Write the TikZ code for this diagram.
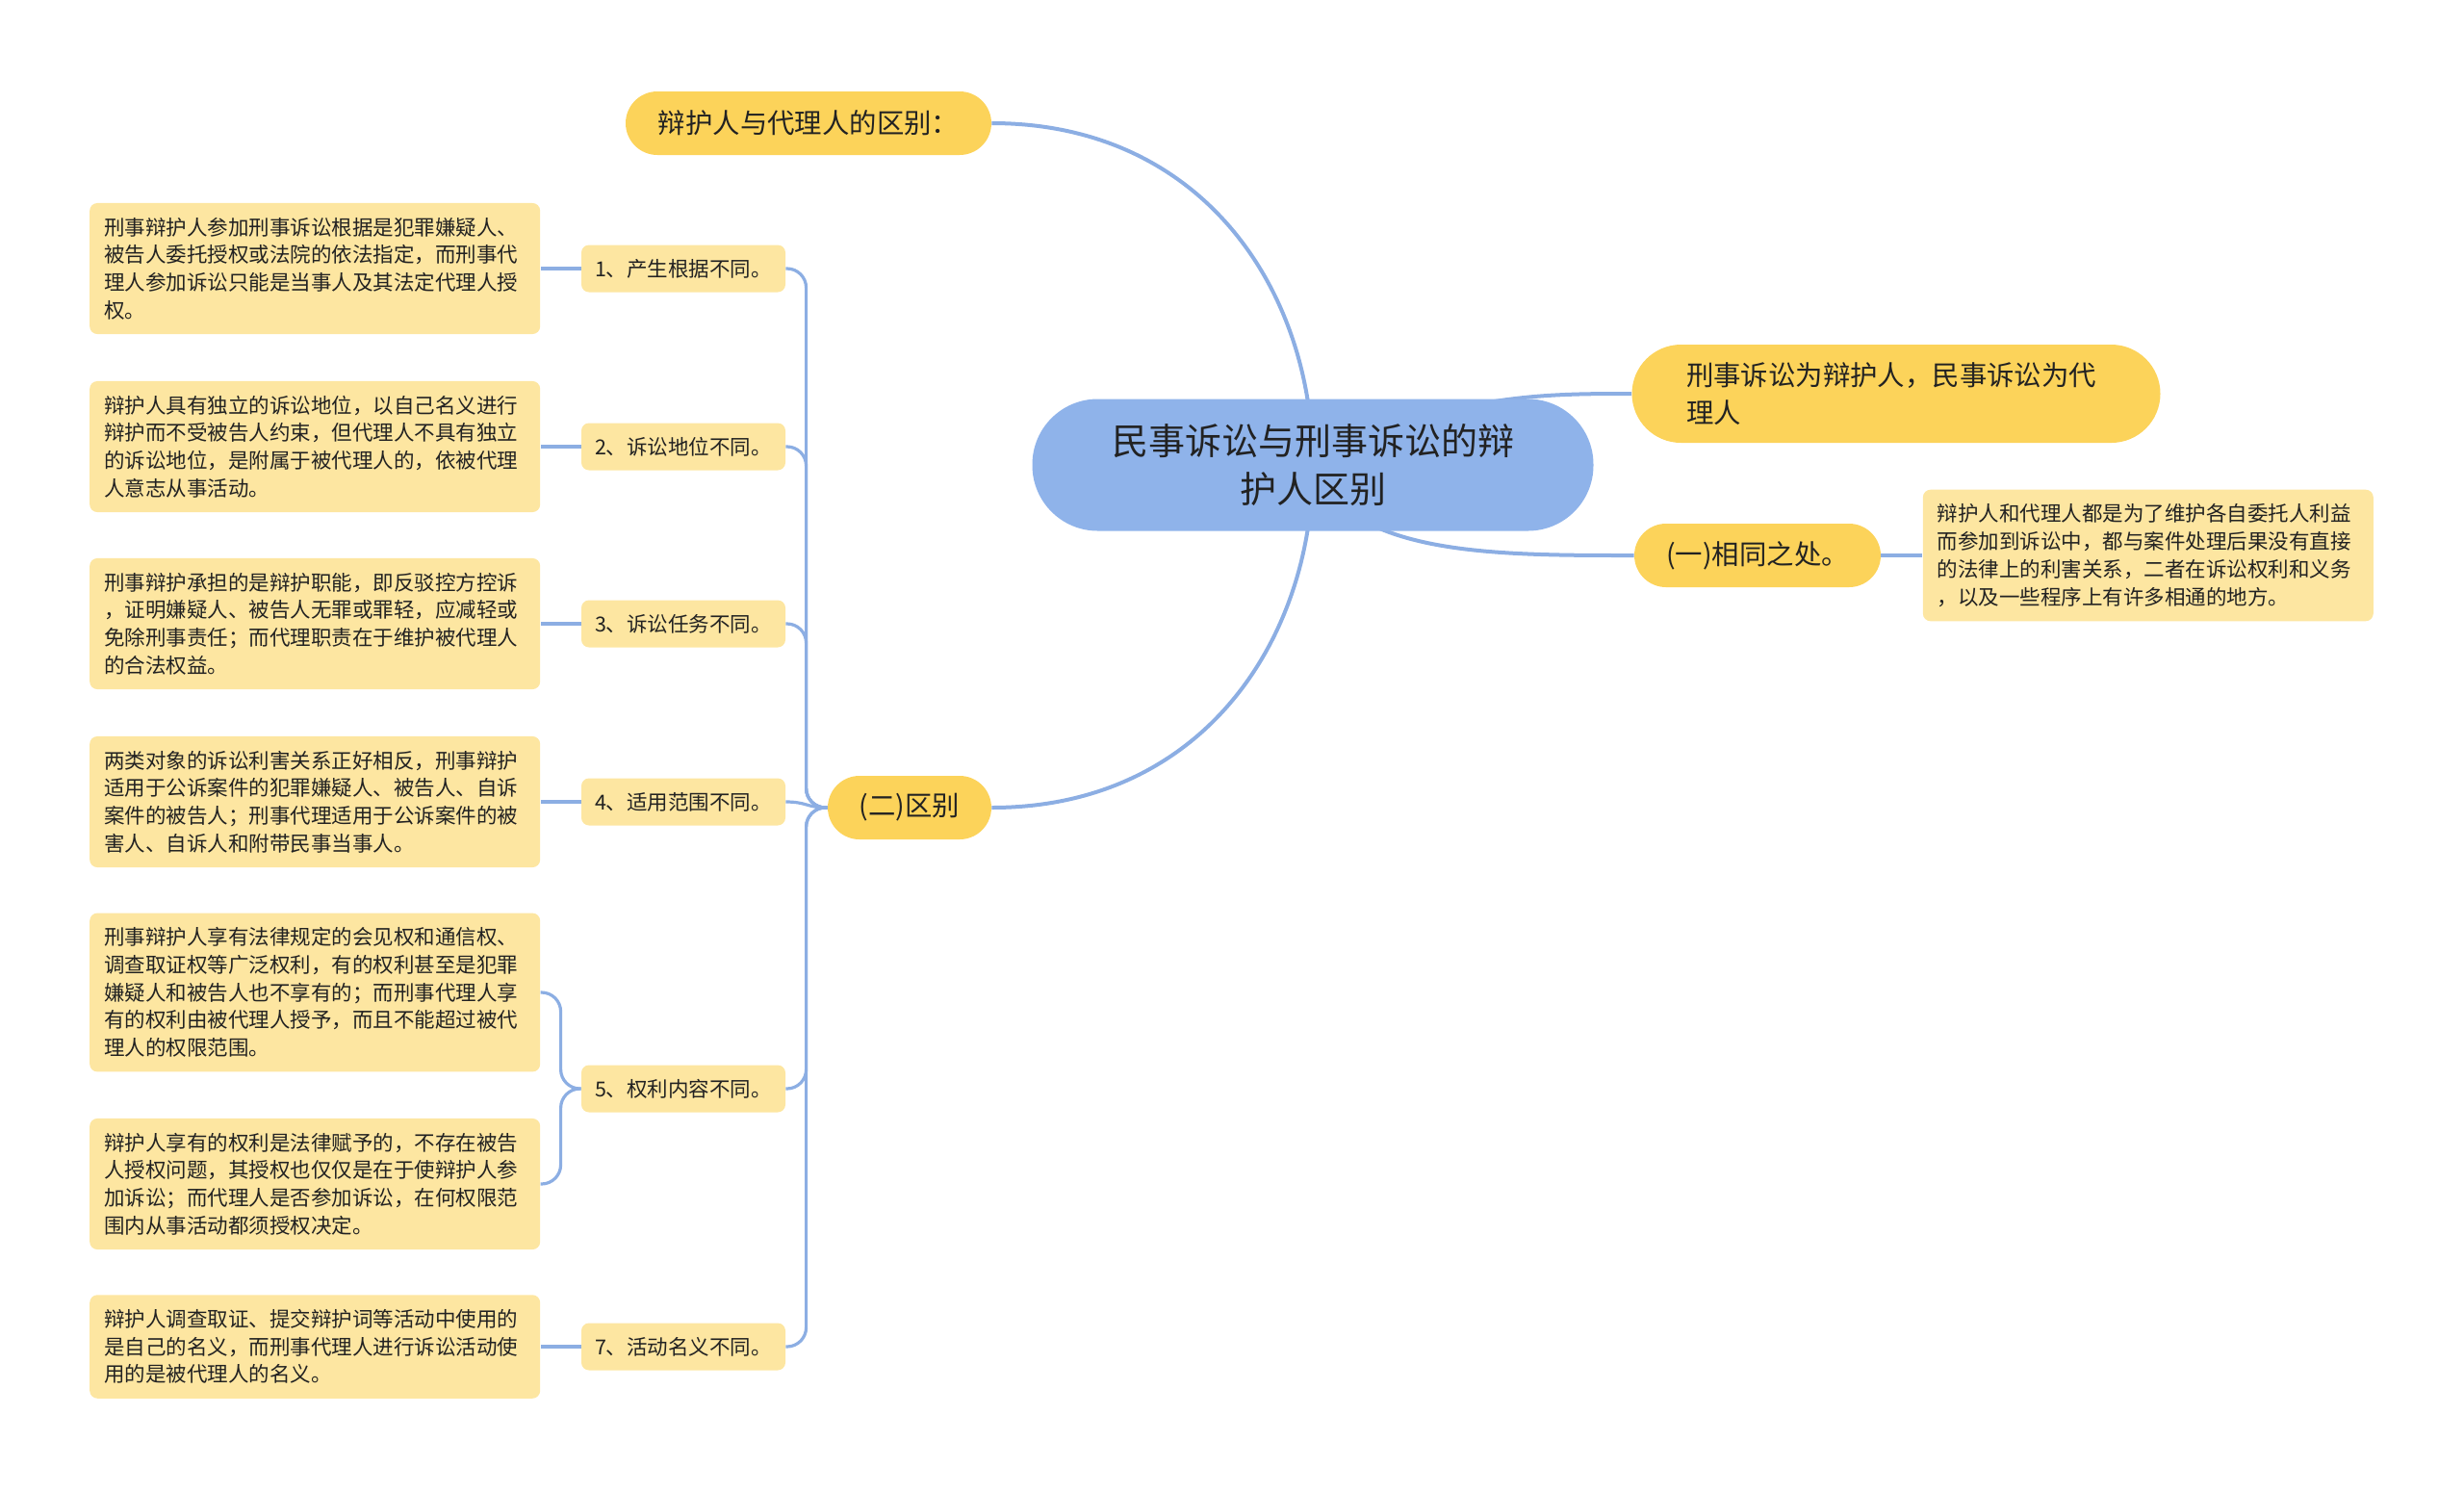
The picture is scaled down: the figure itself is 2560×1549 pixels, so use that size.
\documentclass[tikz,border=0pt]{standalone}
\usepackage{fontspec}
\setmainfont{Noto Sans CJK SC}
\usetikzlibrary{positioning, backgrounds, calc}
\definecolor{rootcolor}{RGB}{143,179,234}
\definecolor{branchcolor}{RGB}{252,211,90}
\definecolor{leafcolor}{RGB}{253,230,161}
\definecolor{linecolor}{RGB}{140,174,227}
\definecolor{inkcolor}{RGB}{34,34,34}

\begin{document}
\begin{tikzpicture}[
    x=0.5pt, y=-0.5pt,
    root/.style={rectangle, rounded corners=34pt, fill=rootcolor, minimum width=291.5pt, minimum height=68.5pt, align=center, text=inkcolor, font=\fontsize{19pt}{25.3pt}\selectfont},
    branch/.style={rectangle, rounded corners=16.5pt, fill=branchcolor, minimum height=33pt, text=inkcolor, font=\fontsize{14.2pt}{19.6pt}\selectfont},
    item/.style={rectangle, rounded corners=4pt, fill=leafcolor, minimum width=106pt, minimum height=24.5pt, text=inkcolor, font=\fontsize{10.75pt}{14.35pt}\selectfont},
    leaf/.style={rectangle, rounded corners=4pt, fill=leafcolor, text width=219pt, inner xsep=7.5pt, inner ysep=7.5pt, align=left, text=inkcolor, font=\fontsize{10.75pt}{14.35pt}\selectfont},
    link/.style={draw=linecolor, line width=1.6pt},
    elbow/.style={link, rounded corners=10pt},
    mainlink/.style={draw=linecolor, line width=2pt},
    node distance=21pt
]
    \useasboundingbox (0,0) rectangle (2560,1549);

    % Root topic
    \node[root] (root) at (1364,483) {民事诉讼与刑事诉讼的辩\\护人区别};

    % Main branches
    \node[branch, minimum width=190pt] (contrast) at (840,128) {辩护人与代理人的区别：};
    \node[branch, rounded corners=25.5pt, minimum width=274.5pt, minimum height=51pt, text width=218pt, inner xsep=27pt, align=left] (roles) at (1970,409) {刑事诉讼为辩护人，民事诉讼为代\\理人};
    \node[branch, minimum width=128pt] (same) at (1826,577) {(一)相同之处。};
    \node[branch, minimum width=85pt] (diff) at (945,839) {(二)区别};

    % Same: detail
    \node[leaf, right=21.5pt of same] (sameattr) {辩护人和代理人都是为了维护各自委托人利益\\
        而参加到诉讼中，都与案件处理后果没有直接\\
        的法律上的利害关系，二者在诉讼权利和义务\\
        ，以及一些程序上有许多相通的地方。};

    % Diff: items
    \node[item] (item1) at (710,279) {1、产生根据不同。};
    \node[item] (item2) at (710,464) {2、诉讼地位不同。};
    \node[item] (item3) at (710,648) {3、诉讼任务不同。};
    \node[item] (item4) at (710,833) {4、适用范围不同。};
    \node[item] (item5) at (710,1131) {5、权利内容不同。};
    \node[item] (item7) at (710,1399) {7、活动名义不同。};

    % Diff: details
    \node[leaf, left=of item1] (leaf1) {刑事辩护人参加刑事诉讼根据是犯罪嫌疑人、\\
        被告人委托授权或法院的依法指定，而刑事代\\
        理人参加诉讼只能是当事人及其法定代理人授\\
        权。};
    \node[leaf, left=of item2] (leaf2) {辩护人具有独立的诉讼地位，以自己名义进行\\
        辩护而不受被告人约束，但代理人不具有独立\\
        的诉讼地位，是附属于被代理人的，依被代理\\
        人意志从事活动。};
    \node[leaf, left=of item3] (leaf3) {刑事辩护承担的是辩护职能，即反驳控方控诉\\
        ，证明嫌疑人、被告人无罪或罪轻，应减轻或\\
        免除刑事责任；而代理职责在于维护被代理人\\
        的合法权益。};
    \node[leaf, left=of item4] (leaf4) {两类对象的诉讼利害关系正好相反，刑事辩护\\
        适用于公诉案件的犯罪嫌疑人、被告人、自诉\\
        案件的被告人；刑事代理适用于公诉案件的被\\
        害人、自诉人和附带民事当事人。};
    \node[leaf, left=of item5, yshift=50pt] (leaf5a) {刑事辩护人享有法律规定的会见权和通信权、\\
        调查取证权等广泛权利，有的权利甚至是犯罪\\
        嫌疑人和被告人也不享有的；而刑事代理人享\\
        有的权利由被代理人授予，而且不能超过被代\\
        理人的权限范围。};
    \node[leaf, left=of item5, yshift=-49.5pt] (leaf5b) {辩护人享有的权利是法律赋予的，不存在被告\\
        人授权问题，其授权也仅仅是在于使辩护人参\\
        加诉讼；而代理人是否参加诉讼，在何权限范\\
        围内从事活动都须授权决定。};
    \node[leaf, left=of item7] (leaf7) {辩护人调查取证、提交辩护词等活动中使用的\\
        是自己的名义，而刑事代理人进行诉讼活动使\\
        用的是被代理人的名义。};

    % Connectors
    \begin{scope}[on background layer]
        \draw[mainlink] (root.center) .. controls +(0,-180) and +(220,0) .. (contrast.east);
        \draw[mainlink] (root.center) .. controls +(0,180) and +(220,0) .. (diff.east);
        \draw[mainlink] (root.center) .. controls (1500,409) and (1600,409) .. (roles.west);
        \draw[mainlink] (root.center) .. controls (1400,577) and (1550,577) .. (same.west);
        \draw[link] (same.east) -- (sameattr.west);
        \foreach \n in {1,2,3,5,7}
            \draw[elbow] (diff.west) -- ++(-22,0) |- (item\n.east);
        \draw[link] (diff.west) .. controls +(-22,0) and +(22,0) .. (item4.east);
        \foreach \n in {1,2,3,4,7}
            \draw[link] (item\n.west) -- (leaf\n.east);
        \draw[elbow] (item5.west) -- ++(-21,0) |- (leaf5a.east);
        \draw[elbow] (item5.west) -- ++(-21,0) |- (leaf5b.east);
    \end{scope}

\end{tikzpicture}
\end{document}
